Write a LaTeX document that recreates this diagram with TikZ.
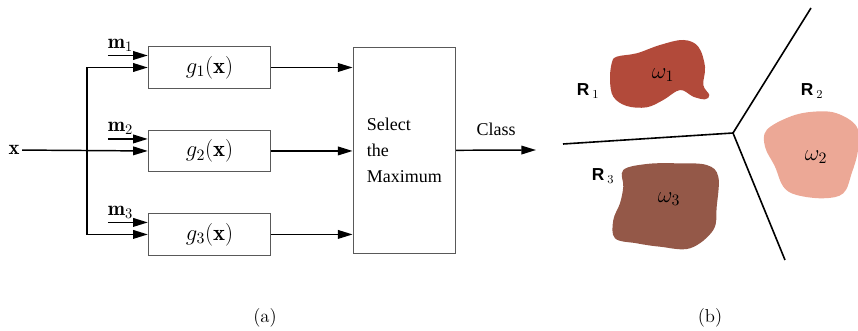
\RequirePackage{fix-cm}
\documentclass[tikz,border=0pt]{standalone}
\usepackage{amsmath}
\usepackage{fontspec}
\newfontfamily\timesfont{Liberation Serif}
\newfontfamily\arialfont{Liberation Sans}
\usetikzlibrary{positioning, calc, arrows.meta}

\definecolor{blobone}{RGB}{178,74,58}
\definecolor{blobtwo}{RGB}{236,168,150}
\definecolor{blobthree}{RGB}{148,88,72}

\begin{document}
\begin{tikzpicture}[x=0.75pt, y=-0.75pt, line width=1.1pt, >={Triangle[length=11pt,width=6.5pt]}]
        % Define block styles
        \tikzstyle{block} = [rectangle, draw=black!65, line width=0.6pt, minimum width=92pt, minimum height=31pt, inner sep=0pt, font=\fontsize{17}{20}\selectfont]
        \tikzstyle{selbox} = [rectangle, draw=black!65, line width=0.6pt, minimum width=77pt, minimum height=154.5pt, align=left, font=\timesfont\fontsize{13.5}{19.5}\selectfont]
        \tikzstyle{lab} = [inner sep=1.5pt, font=\fontsize{15.5}{18}\selectfont]
        \tikzstyle{omega} = [inner sep=1pt, font=\fontsize{17}{20}\selectfont]
        \tikzstyle{region} = [font=\arialfont\bfseries\fontsize{13}{15}\selectfont]

        \useasboundingbox (0,0) rectangle (858,331);

        % Place nodes
        \node [block] (g1) at (209.5,67.5) {$g_1(\mathbf{x})$};
        \node [block, below=31pt of g1] (g2) {$g_2(\mathbf{x})$};
        \node [block, below=31pt of g2] (g3) {$g_3(\mathbf{x})$};
        \node [selbox, right=61pt of g2, yshift=0.5pt] (select) {Select\\the\\Maximum};
        \node [lab] (xin) at (14,150) {$\mathbf{x}$};
        \coordinate (bus) at (87,150);
        \coordinate (out) at (536,150);

        % Draw connections as arrows
        \draw [->] (xin) -- (g2.west);
        \draw [->] (bus) |- (g1.west);
        \draw [->] (bus) |- (g3.west);
        \foreach \i in {1,2,3} {
            \coordinate (m\i in) at ($(g\i.west)+(-40,-12)$);
            \draw [->] (m\i in) -- (m\i in -| g\i.west);
            \node [lab, anchor=south west, xshift=-2pt, yshift=1pt] (m\i) at (m\i in) {$\mathbf{m}_\i$};
            \draw [->] (g\i.east) -- (g\i.east -| select.west);
        }
        \draw [->] (select.east) -- node [above=7pt, font=\timesfont\fontsize{13.5}{15}\selectfont] (class) {Class} (out);

        % Decision regions
        \coordinate (junc) at (733,133);
        \coordinate (left) at (563,144);
        \coordinate (up) at (811,8);
        \coordinate (down) at (785,260);
        \draw [line width=1.2pt] (left) -- (junc) -- (up);
        \draw [line width=1.2pt] (junc) -- (down);

        \fill [blobone] plot [smooth cycle, tension=0.6] coordinates {(611.7,63.3) (616.7,56.7) (636.7,53.3) (660,45) (683.3,40) (698.3,46.7) (705,66.7) (703.3,85) (709.3,95) (705,99.3) (693.3,96.7) (680,90) (663.3,100) (646.7,107.3) (626.7,106) (613.3,96.7) (610,80)};
        \fill [blobtwo] plot [smooth cycle, tension=0.6] coordinates {(766.7,130) (790,116.7) (813.3,111.7) (836.7,113.3) (856.7,126.7) (858,150) (851.7,173.3) (843.3,193.3) (823.3,198.3) (796.7,195) (783.3,186.7) (775,166.7) (765,146.7)};
        \fill [blobthree] plot [smooth cycle, tension=0.6] coordinates {(623.3,170) (646.7,164) (676.7,163.3) (706.7,165) (718.3,176.7) (716.7,206.7) (713.3,230) (690,248.3) (660,246.7) (636.7,243.3) (615,238.3) (613.3,220) (620,203.3) (623.3,186.7)};

        \node [omega] (w1) at (663,75) {$\omega_1$};
        \node [omega] (w2) at (816,157) {$\omega_2$};
        \node [omega] (w3) at (669,199) {$\omega_3$};
        \node [region] (r1) at (588,91) {R\,\normalfont$_1$};
        \node [region] (r2) at (812,91) {R\,\normalfont$_2$};
        \node [region] (r3) at (603,176) {R\,\normalfont$_3$};

        % Add subtitles to the picture
        \node [lab, font=\fontsize{14}{16}\selectfont] (capa) at (265,318) {(a)};
        \node [lab, font=\fontsize{14}{16}\selectfont] (capb) at (710,318) {(b)};
    \end{tikzpicture}
\end{document}
